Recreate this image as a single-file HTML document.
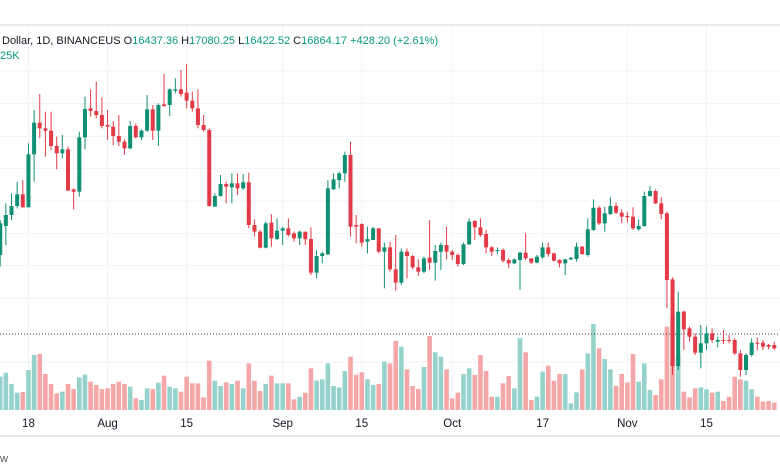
<!DOCTYPE html>
<html><head><meta charset="utf-8"><style>
html,body{margin:0;padding:0;background:#fff;width:780px;height:470px;overflow:hidden;font-family:"Liberation Sans",sans-serif}
</style></head><body>
<svg id="chart" width="780" height="470" viewBox="0 0 780 470">
<rect x="0" y="0" width="780" height="470" fill="#fff"/>
<line x1="0" y1="25" x2="780" y2="25" stroke="#ebebeb" stroke-width="2"/>
<g id="grid"></g>
<g id="vols"></g>
<line x1="0" y1="334" x2="780" y2="334" stroke="#444" stroke-width="1" stroke-dasharray="1,2"/>
<g id="candles"></g>
<text x="2" y="44" font-size="11" fill="#131722">Dollar, 1D, BINANCEUS  <tspan fill="#131722">O</tspan><tspan fill="#089981">16437.36</tspan>  <tspan fill="#131722">H</tspan><tspan fill="#089981">17080.25</tspan>  <tspan fill="#131722">L</tspan><tspan fill="#089981">16422.52</tspan>  <tspan fill="#131722">C</tspan><tspan fill="#089981">16864.17</tspan>  <tspan fill="#089981">+428.20 (+2.61%)</tspan></text>
<text x="0" y="59" font-size="11" fill="#089981">25K</text>
<line x1="0" y1="436" x2="780" y2="436" stroke="#e6e6e6" stroke-width="2"/>
<g id="xaxis"></g>
<text x="0" y="462" font-size="11" fill="#555">w</text>
</svg>
<script>
const opens=[19590,20460,20790,21060,21410,21020,22610,23560,23390,23320,22860,22640,22760,21560,21490,23120,23990,23910,23790,23490,23440,23160,22990,22790,23460,23120,23320,23960,23320,24110,24090,24520,24560,24460,24220,23990,23490,23340,21040,21360,21720,21620,21740,21590,21770,20490,20290,19810,20560,20070,20320,20390,20240,20090,20290,20070,19060,19560,19610,21560,21840,22040,22590,20490,20520,19990,20040,20390,19690,19820,19160,18760,19690,19560,19220,19090,19510,19360,19690,19890,19690,19590,19320,19910,20610,20420,20220,19820,19710,19740,19440,19340,19440,19660,19490,19360,19520,19820,19640,19440,19340,19460,19470,19840,19590,20340,21010,20540,20820,21060,20860,20760,20740,20360,20460,21360,21510,21140,20840,18860,16260,17890,17390,17140,16660,16940,17240,16990,17040,17040,17040,16640,16140,16590,16960,16960,16890,16890];
const closes=[20540,20790,21060,21410,21020,22610,23560,23390,23320,22860,22640,22760,21520,21490,23120,23970,23910,23790,23460,23440,23160,22990,22790,23460,23120,23320,23960,23320,24090,24060,24560,24560,24420,24220,23990,23490,23340,21060,21360,21720,21640,21740,21590,21770,20490,20290,19810,20540,20090,20320,20390,20190,20090,20290,20060,19060,19560,19640,21590,21860,22040,22590,20440,20440,19960,20070,20390,19690,19820,19160,18760,19690,19560,19220,19090,19490,19360,19710,19890,19690,19590,19320,19910,20590,20420,20190,19820,19690,19740,19420,19340,19460,19660,19490,19360,19540,19820,19620,19420,19340,19460,19510,19840,19620,20360,21010,20540,20840,21060,20860,20740,20720,20390,20460,21360,21510,21140,20820,18840,16260,17890,17360,17140,16660,16940,17240,17040,17040,17020,17020,16640,16140,16590,16960,16940,16840,16840,16790];
const highs=[20640,21140,21440,21790,21840,22940,23940,24420,23890,23890,23140,23190,22840,21590,23290,24340,24560,24790,24320,23940,23610,23790,23060,23610,23540,23360,24390,24090,24140,25020,24590,24890,25140,25320,24490,24560,23790,23390,21440,21990,21790,22040,22040,22020,22060,20660,20340,20590,20820,20690,20440,20690,20290,20320,20290,20420,19740,19690,21840,22040,22090,22690,22990,20790,20540,20440,20440,20390,19960,19990,20190,19790,19790,19590,19460,19540,20640,19890,19960,20440,19740,19640,19960,20690,20640,20690,20340,19860,19820,19790,19490,19490,19690,20240,19490,19590,19960,19960,19660,19460,19480,19520,19960,19860,20690,21260,21060,21040,21320,21160,20960,20890,21020,20660,21490,21660,21560,21320,20890,18920,18490,17920,17440,17240,17490,17440,17390,17140,17340,17190,17090,16740,16640,17090,17120,17040,16920,16990];
const lows=[19240,19890,20640,20990,21020,21020,21790,23090,22540,22740,22160,22490,21520,20960,21340,22760,23740,23690,23390,23040,22890,22860,22590,22760,23090,23040,23290,23040,22860,24040,23760,24440,24340,23990,23890,23390,23290,21040,21040,21340,21140,21140,21390,21540,20390,20140,19790,19790,19840,20040,19890,20140,19990,19890,19890,18990,18890,19340,19590,21540,21590,21790,20140,19940,19840,19640,20040,19640,18590,19090,18520,18690,18890,19160,18960,19040,19140,18820,19140,19460,19440,19240,19290,19890,20040,20140,19640,19560,19620,19360,19190,19320,18540,19440,19320,19340,19480,19540,19390,19220,18990,19440,19390,19590,19540,20320,20490,20290,20790,20820,20540,20560,20340,20320,20440,21340,21120,20660,17990,15990,16140,16740,16990,16590,16190,16740,16960,16820,16920,16940,16590,15940,15990,16540,16740,16740,16760,16740];
const volumes=[100,112,78,52,54,120,165,168,108,78,50,55,78,63,98,106,85,75,63,65,78,85,78,70,35,30,65,63,82,103,70,65,55,100,80,80,38,148,88,72,83,78,88,65,140,88,57,78,103,80,80,80,32,40,52,125,88,92,140,72,68,117,160,106,113,92,75,78,145,140,207,190,122,72,63,129,222,173,160,122,35,52,108,125,105,165,117,40,40,80,102,65,215,173,30,40,115,133,88,108,108,20,53,122,170,258,185,153,122,72,108,83,168,85,140,60,45,92,250,285,162,55,38,65,68,62,52,55,27,40,100,92,88,62,40,25,27,22];
const xTickLabels=["18","Aug","15","Sep","15","Oct","17","Nov","15"];
const xTickIndex=[5,19,33,50,64,80,96,111,125];
const volUp=closes.map((c,i)=>c>=opens[i]);

const NS="http://www.w3.org/2000/svg";
function xScale(i){return 0.2+5.65*i;}
function yScale(p){return 60+(25440-p)/30;}
function vScale(v){return v/3;}
const VBASE=410;
function mk(tag,attrs,parent){const e=document.createElementNS(NS,tag);for(const k in attrs)e.setAttribute(k,attrs[k]);parent.appendChild(e);return e;}

const grid=document.getElementById('grid');
const gridPrices=[25110,24140,23150,22190,21210,20240,19280,18290,17330];
gridPrices.forEach(p=>{const l=mk('line',{x1:0,x2:780,y1:yScale(p),y2:yScale(p),stroke:'#f0f3fa','stroke-width':1},grid);

});
const vg=mk('line',{x1:0,x2:780,y1:362,y2:362,stroke:'#f0f3fa','stroke-width':1},grid);


xTickIndex.forEach(i=>{const l=mk('line',{x1:xScale(i),x2:xScale(i),y1:26,y2:410,stroke:'#f0f3fa','stroke-width':1},grid);

});

const vols=document.getElementById('vols');
volumes.forEach((v,i)=>{const h=vScale(v);
const r=mk('rect',{x:xScale(i)-2.3,y:VBASE-h,width:4.6,height:h,fill:volUp[i]?'#95d2cb':'#f5a6a6'},vols);

});

const cg=document.getElementById('candles');
opens.forEach((o,i)=>{const c=closes[i],up=c>=o,col=up?'#0f8f74':'#e23b47',x=xScale(i);
const g=mk('g',{},cg);


mk('line',{x1:x,x2:x,y1:yScale(highs[i]),y2:yScale(lows[i]),stroke:col,'stroke-width':1},g);
const top=yScale(Math.max(o,c)),bot=yScale(Math.min(o,c));
mk('rect',{x:x-2,y:top,width:4,height:Math.max(1,bot-top),fill:col},g);});

const xa=document.getElementById('xaxis');
xTickLabels.forEach((t,k)=>{
const tx=mk('text',{x:xScale(xTickIndex[k]),y:427,'font-size':11.5,'text-anchor':'middle',fill:'#131722'},xa);
tx.textContent=t;

});
</script>
</body></html>
